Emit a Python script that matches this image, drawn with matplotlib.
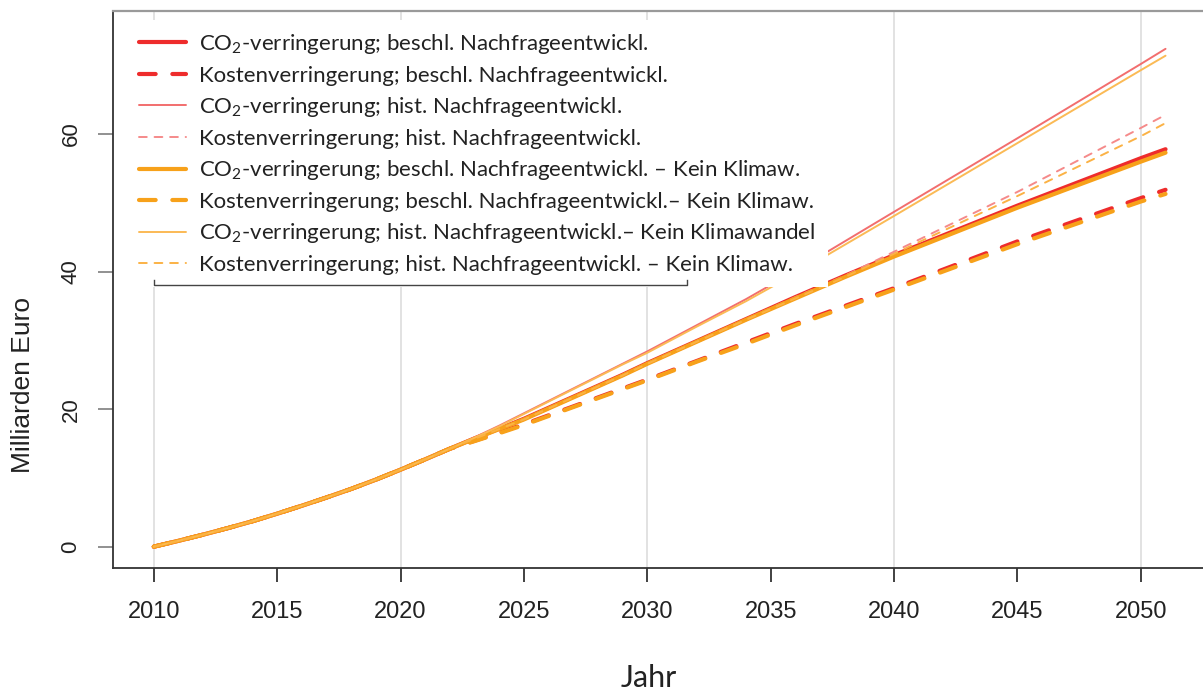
import matplotlib
matplotlib.use("Agg")
import matplotlib.pyplot as plt

plt.rcParams["font.family"] = ["Liberation Sans", "DejaVu Sans"]
plt.rcParams["mathtext.fontset"] = "custom"
plt.rcParams["mathtext.rm"] = "Lato"
plt.rcParams["mathtext.default"] = "rm"

years = list(range(2010, 2031)) + [2032, 2034, 2036, 2038, 2040, 2045, 2050, 2051]

early = [0.0, 0.85, 1.75, 2.7, 3.7, 4.8, 5.95, 7.15, 8.4, 9.75, 11.2, 12.7, 14.25]

co2_beschl = early + [15.75, 17.15, 18.6, 20.2, 21.8, 23.4, 25.0, 26.7,
                      29.9, 33.1, 36.3, 39.4, 42.4, 49.6, 56.5, 57.8]
kost_beschl = early + [15.4, 16.6, 17.8, 19.1, 20.4, 21.7, 23.0, 24.3,
                       27.0, 29.7, 32.4, 35.0, 37.6, 44.4, 50.7, 51.9]
co2_hist = early + [15.9, 17.6, 19.4, 21.2, 23.0, 24.8, 26.6, 28.4,
                    32.2, 36.0, 40.1, 44.4, 48.7, 59.4, 70.2, 72.4]
kost_hist = early + [15.75, 17.15, 18.6, 20.2, 21.8, 23.4, 25.0, 26.7,
                     29.9, 33.1, 36.3, 39.4, 42.9, 51.6, 60.9, 62.8]
co2_beschl_kk = early + [15.7, 17.1, 18.5, 20.1, 21.7, 23.3, 24.9, 26.6,
                         29.8, 33.0, 36.1, 39.2, 42.2, 49.3, 56.0, 57.3]
kost_beschl_kk = early + [15.35, 16.5, 17.7, 19.0, 20.3, 21.6, 22.9, 24.2,
                          26.9, 29.5, 32.2, 34.8, 37.4, 44.0, 50.2, 51.3]
co2_hist_kk = early + [15.85, 17.5, 19.3, 21.1, 22.9, 24.7, 26.5, 28.2,
                       32.0, 35.7, 39.7, 43.9, 48.1, 58.7, 69.3, 71.4]
kost_hist_kk = early + [15.7, 17.1, 18.5, 20.1, 21.7, 23.3, 24.9, 26.6,
                        29.8, 33.0, 36.1, 39.2, 42.6, 51.0, 59.7, 61.6]

labels = [
    "CO$_2$-verringerung; beschl. Nachfrageentwickl.",
    "Kostenverringerung; beschl. Nachfrageentwickl.",
    "CO$_2$-verringerung; hist. Nachfrageentwickl.",
    "Kostenverringerung; hist. Nachfrageentwickl.",
    "CO$_2$-verringerung; beschl. Nachfrageentwickl. \u2013 Kein Klimaw.",
    "Kostenverringerung; beschl. Nachfrageentwickl.\u2013 Kein Klimaw.",
    "CO$_2$-verringerung; hist. Nachfrageentwickl.\u2013 Kein Klimawandel",
    "Kostenverringerung; hist. Nachfrageentwickl. \u2013 Kein Klimaw.",
]
series = [co2_beschl, kost_beschl, co2_hist, kost_hist,
          co2_beschl_kk, kost_beschl_kk, co2_hist_kk, kost_hist_kk]

x_ticks = list(range(2010, 2051, 5))
grid_years = list(range(2010, 2051, 10))
y_ticks = [0, 20, 40, 60]

# (colour, width, dashed)
styles = [
    ("#ee2c2c", 3.0, False),
    ("#ee2c2c", 3.0, True),
    ("#f26e6e", 1.4, False),
    ("#f58a8a", 1.4, True),
    ("#f7a11a", 3.0, False),
    ("#f7a11a", 3.0, True),
    ("#fbba55", 1.4, False),
    ("#fbb245", 1.4, True),
]

fig = plt.figure(figsize=(12.03, 6.93), dpi=100)
ax = fig.add_axes([0.0942, 0.1808, 0.9083, 0.8033])

for gx in grid_years:
    ax.axvline(gx, color="#dddddd", lw=1.2, zorder=1)

for values, label, (color, width, dashed) in zip(series, labels, styles):
    line = ax.plot(years, values, color=color, lw=width, label=label,
                   solid_capstyle="round", dash_capstyle="round", zorder=2)[0]
    if dashed:
        line.set_dashes((4, 4))

ax.set_xlim(2008.36, 2052.64)
ax.set_ylim(-3.06, 77.9)
ax.set_xticks(x_ticks)
ax.set_yticks(y_ticks)
ax.tick_params(axis="x", length=10, width=1.3, color="#333333", pad=14,
               labelsize=17, labelcolor="#222222")
ax.tick_params(axis="y", length=11, width=1.3, color="#888888", pad=12,
               labelsize=16, labelcolor="#222222", labelrotation=90)
for lab in ax.get_yticklabels():
    lab.set_va("center")

for side in ["left", "bottom"]:
    ax.spines[side].set_color("#333333")
    ax.spines[side].set_linewidth(1.3)
ax.spines["top"].set_color("#9a9a9a")
ax.spines["top"].set_linewidth(1.6)
ax.spines["right"].set_visible(False)

leg = ax.legend(loc="upper left", bbox_to_anchor=(0.0125, 0.984),
                borderaxespad=0, frameon=True, facecolor="white",
                edgecolor="none", framealpha=1, fancybox=False,
                prop={"family": "Lato", "size": 16}, handlelength=2.1,
                handletextpad=0.6, labelspacing=0.43, borderpad=0.55)
for text in leg.get_texts():
    text.set_color("#222222")

ax.plot([2010, 2010, 2031.6, 2031.6], [38.8, 38.1, 38.1, 38.8],
        color="#444444", lw=1, zorder=6)

fig.text(23 / 1203, 1 - 385 / 693, "Milliarden Euro", rotation=90,
         ha="center", va="center", fontsize=19, color="#222222")
fig.text(649 / 1203, 1 - 678 / 693, "Jahr", ha="center", va="center",
         fontsize=22, color="#222222", family="Lato")

fig.savefig("out.png", dpi=100)
